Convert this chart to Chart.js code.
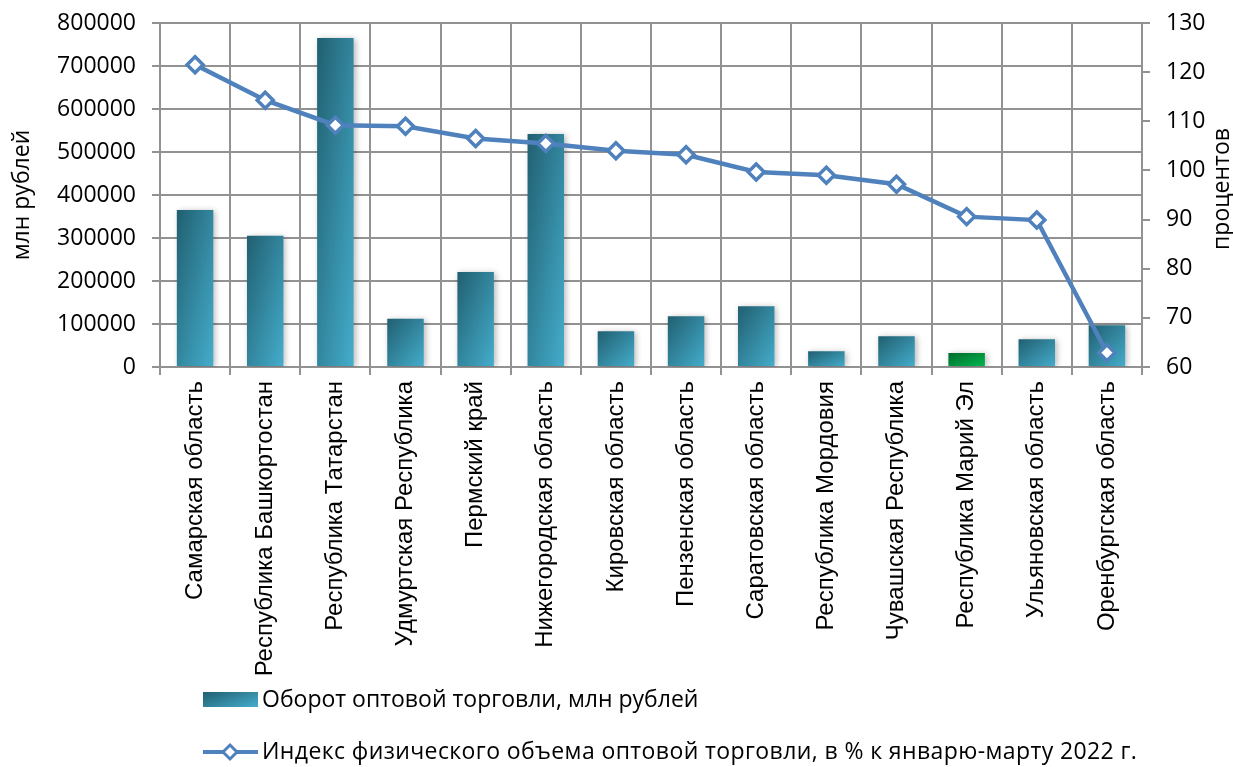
<!DOCTYPE html>
<html>
<head>
<meta charset="utf-8">
<script src="https://cdn.jsdelivr.net/npm/chart.js@4/dist/chart.umd.min.js"></script>
<style>
  html, body { margin: 0; padding: 0; background: #fff; }
  #wrap { position: relative; width: 1233px; height: 767px; }
  .leg { position: absolute; font-family: "Open Sans", sans-serif; font-size: 23px; color: #000; white-space: nowrap; line-height: 1; }
</style>
</head>
<body>
<div id="wrap">
  <canvas id="myChart" width="1233" height="767"></canvas>
  <div class="leg" style="left:203px;top:692px;width:55px;height:15px;background:linear-gradient(160deg,#215f70,#44adcc);"></div>
  <div class="leg" id="leg1" style="left:262px;top:687px;"></div>
  <svg class="leg" style="left:200px;top:740px;" width="62" height="24">
    <line x1="3" y1="12" x2="58" y2="12" stroke="#4f81bd" stroke-width="4"/>
    <polygon points="30,5 37,12 30,19 23,12" fill="#fff" stroke="#4f81bd" stroke-width="3"/>
  </svg>
  <div class="leg" id="leg2" style="left:262px;top:739px;letter-spacing:0.4px;"></div>
</div>
<script>
// regions (categories)
const regions = [
  "Самарская область", "Республика Башкортостан", "Республика Татарстан",
  "Удмуртская Республика", "Пермский край", "Нижегородская область",
  "Кировская область", "Пензенская область", "Саратовская область",
  "Республика Мордовия", "Чувашская Республика", "Республика Марий Эл",
  "Ульяновская область", "Оренбургская область"
];
// оборот оптовой торговли, млн рублей
const turnover = [365000, 305000, 765000, 112000, 221000, 542000, 83000,
                  118000, 141000, 36500, 71500, 32600, 64500, 97000];
// индекс физического объема, %
const volumeIndex = [121.5, 114.3, 109.2, 109.0, 106.5, 105.5, 104.0,
                     103.2, 99.7, 99.0, 97.2, 90.6, 89.9, 62.9];

const leftTicks = [0, 800000, 100000];   // min, max, step
const rightTicks = [60, 130, 10];

const barLabel = "Оборот оптовой торговли, млн рублей";
const lineLabel = "Индекс физического объема оптовой торговли, в % к январю-марту 2022 г.";
const leftTitle = "млн рублей";
const rightTitle = "процентов";
const highlighted = "Республика Марий Эл";

document.getElementById("leg1").textContent = barLabel;
document.getElementById("leg2").textContent = lineLabel;

const teal = ["#215f70", "#44adcc"];
const green = ["#006a2c", "#00b850"];
const BAR_PCT = 0.52;

function barFill(c) {
  const chart = c.chart;
  const xs = chart.scales.x, ys = chart.scales.y;
  const cols = regions[c.dataIndex] === highlighted ? green : teal;
  if (!xs || !ys || c.dataIndex === undefined) return cols[1];
  const cx = xs.getPixelForValue(c.dataIndex);
  const w = (xs.width / regions.length) * BAR_PCT;
  const top = ys.getPixelForValue(c.raw);
  const base = ys.getPixelForValue(0);
  if (![cx, w, top, base].every(Number.isFinite) || w <= 0) return cols[1];
  const h = Math.max(base - top, 1);
  const left = cx - w / 2;
  const t = (2 * w * h) / (h * h + w * w);
  const g = chart.ctx.createLinearGradient(left, top, left + t * h, top + t * w);
  g.addColorStop(0, cols[0]);
  g.addColorStop(1, cols[1]);
  return g;
}

const barShadow = {
  id: "barShadow",
  beforeDatasetDraw(chart, args) {
    if (args.meta.type !== "bar") return;
    const ctx = chart.ctx;
    ctx.save();
    ctx.shadowColor = "rgba(0,0,0,0.28)";
    ctx.shadowBlur = 6;
    ctx.shadowOffsetX = 2;
    ctx.shadowOffsetY = 1;
  },
  afterDatasetDraw(chart, args) {
    if (args.meta.type !== "bar") return;
    chart.ctx.restore();
  }
};

const rightAxisTitle = {
  id: "rightAxisTitle",
  afterDraw(chart) {
    const ctx = chart.ctx;
    const a = chart.chartArea;
    ctx.save();
    ctx.translate(chart.scales.y1.right - 11, (a.top + a.bottom) / 2 - 6);
    ctx.rotate(-Math.PI / 2);
    ctx.font = '23px "Open Sans"';
    ctx.textAlign = "center";
    ctx.textBaseline = "middle";
    ctx.fillStyle = "#000";
    ctx.fillText(rightTitle, 0, 0);
    ctx.restore();
  }
};

const gridColor = "#929292";
const tickFont = { family: '"Open Sans", sans-serif', size: 23 };

// fixed axis boxes so the plot area sits where the original has it
function fitY(width) {
  return (s) => {
    s.width = width;
    s.paddingTop = 0;
    s.paddingBottom = 0;
  };
}

const ctx = document.getElementById("myChart").getContext("2d");
const myChart = new Chart(ctx, {
  type: "bar",
  data: {
    labels: regions,
    datasets: [
      {
        type: "line",
        label: lineLabel,
        data: volumeIndex,
        yAxisID: "y1",
        order: 0,
        borderColor: "#4f81bd",
        borderWidth: 4.5,
        tension: 0,
        pointStyle: "rectRot",
        pointRadius: 8,
        pointHoverRadius: 8,
        pointBorderWidth: 3.5,
        pointBackgroundColor: "#fff",
        pointBorderColor: "#4f81bd"
      },
      {
        type: "bar",
        label: barLabel,
        data: turnover,
        yAxisID: "y",
        order: 1,
        backgroundColor: barFill,
        barPercentage: BAR_PCT,
        categoryPercentage: 1
      }
    ]
  },
  options: {
    responsive: false,
    animation: false,
    layout: { padding: { top: 23, bottom: 80, left: 0, right: 0 } },
    plugins: {
      legend: { display: false },
      tooltip: { enabled: false }
    },
    scales: {
      x: {
        afterFit: (s) => { s.height = 320; },
        grid: { color: gridColor, lineWidth: 2, tickLength: 8 },
        border: { color: gridColor, width: 2 },
        ticks: {
          autoSkip: false,
          minRotation: 90,
          maxRotation: 90,
          padding: 6,
          color: "#000",
          font: { family: '"Liberation Sans", Arial, sans-serif', size: 24 }
        }
      },
      y: {
        position: "left",
        min: leftTicks[0],
        max: leftTicks[1],
        afterFit: fitY(160),
        grid: { color: gridColor, lineWidth: 2, tickLength: 8 },
        border: { color: gridColor, width: 2 },
        title: {
          display: true,
          text: leftTitle,
          color: "#000",
          padding: { top: 9, bottom: 0 },
          font: { family: '"Open Sans", sans-serif', size: 23 }
        },
        ticks: {
          stepSize: leftTicks[2],
          padding: 16,
          color: "#000",
          callback: (v) => String(v),
          font: tickFont
        }
      },
      y1: {
        position: "right",
        min: rightTicks[0],
        max: rightTicks[1],
        afterFit: fitY(91),
        grid: { drawOnChartArea: false, color: gridColor, lineWidth: 2, tickLength: 8 },
        border: { color: gridColor, width: 2 },
        ticks: {
          stepSize: rightTicks[2],
          padding: 16,
          color: "#000",
          font: tickFont
        }
      }
    }
  },
  plugins: [barShadow, rightAxisTitle]
});
</script>
</body>
</html>
